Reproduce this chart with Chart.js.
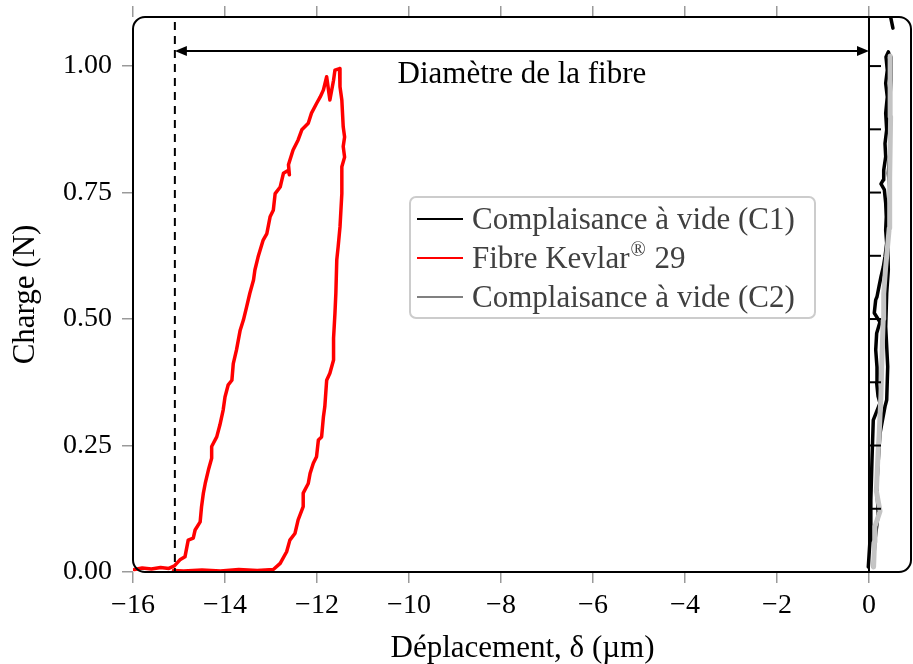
<!DOCTYPE html>
<html>
<head>
<meta charset="utf-8">
<script src="https://cdn.jsdelivr.net/npm/chart.js@4.4.0/dist/chart.umd.min.js"></script>
<style>
  html, body { margin: 0; padding: 0; background: #fff; }
</style>
</head>
<body>
<canvas id="chart" width="913" height="664"></canvas>
<script>
// values
const xTicks = [-16, -14, -12, -10, -8, -6, -4, -2, 0];
const yTicks = [0, 0.25, 0.5, 0.75, 1.0];
const zeroLineTicks = [0.125, 0.25, 0.375, 0.5, 0.625, 0.75, 0.875, 1.0];

const seriesLabels = ['Complaisance à vide (C1)', 'Fibre Kevlar® 29', 'Complaisance à vide (C2)'];

const kevlarX = [-15.97, -15.80, -15.60, -15.40, -15.22, -15.10, -14.98, -14.87, -14.80, -14.69,
  -14.65, -14.54, -14.51, -14.47, -14.43, -14.36, -14.29, -14.29, -14.18, -14.11,
  -14.04, -14.00, -13.93, -13.85, -13.82, -13.75, -13.67, -13.60, -13.53, -13.46,
  -13.38, -13.35, -13.28, -13.17, -13.09, -13.02, -12.95, -12.91, -12.80, -12.73,
  -12.62, -12.60, -12.62, -12.59, -12.52, -12.41, -12.33, -12.19, -12.12, -12.01,
  -11.93, -11.86, -11.79, -11.72, -11.64, -11.61, -11.51, -11.50, -11.46, -11.43,
  -11.40, -11.43, -11.40, -11.46, -11.46, -11.50, -11.54, -11.57, -11.59, -11.61,
  -11.64, -11.64, -11.72, -11.79, -11.83, -11.86, -11.90, -11.97, -12.01, -12.08,
  -12.15, -12.19, -12.30, -12.30, -12.41, -12.48, -12.59, -12.66, -12.80, -12.95,
  -13.30, -13.70, -14.10, -14.50, -14.90, -15.12];
const kevlarY = [0.005, 0.008, 0.006, 0.009, 0.007, 0.012, 0.024, 0.030, 0.063, 0.067,
  0.083, 0.099, 0.129, 0.156, 0.175, 0.202, 0.225, 0.248, 0.267, 0.291,
  0.320, 0.346, 0.370, 0.379, 0.412, 0.439, 0.478, 0.498, 0.524, 0.551,
  0.577, 0.597, 0.623, 0.656, 0.669, 0.702, 0.715, 0.748, 0.761, 0.788,
  0.794, 0.785, 0.805, 0.814, 0.834, 0.854, 0.874, 0.887, 0.907, 0.926,
  0.939, 0.953, 0.979, 0.933, 0.972, 0.992, 0.995, 0.959, 0.933, 0.880,
  0.860, 0.841, 0.820, 0.801, 0.748, 0.682, 0.643, 0.617, 0.551, 0.511,
  0.462, 0.419, 0.393, 0.379, 0.327, 0.307, 0.267, 0.261, 0.228, 0.215,
  0.195, 0.175, 0.156, 0.129, 0.103, 0.076, 0.063, 0.040, 0.017, 0.005,
  0.003, 0.005, 0.002, 0.004, 0.002, 0.003];

// C1: loading strand, unloading strand, then a short piece entering from above
const c1X = [-0.015, 0.022, 0.037, 0.043, 0.065, 0.093, 0.239, 0.196, 0.167, 0.174,
  0.146, 0.167, 0.239, 0.115, 0.146, 0.174, 0.217, 0.261, 0.311, 0.348,
  0.385, 0.363, 0.376, 0.363, 0.333, 0.261, 0.311, 0.320, 0.363, 0.348,
  0.385, 0.363, 0.398, 0.363, 0.398, 0.370, 0.420,
  0.457, 0.478, 0.435, 0.463, 0.420, 0.457, 0.420, 0.407, 0.420, 0.385,
  0.363, 0.407, 0.385, 0.348, 0.239, 0.202, 0.167, 0.202, 0.130, 0.093,
  null, 0.430, 0.520];
const c1Y = [0.010, 0.063, 0.117, 0.142, 0.221, 0.300, 0.334, 0.348, 0.374, 0.405,
  0.439, 0.472, 0.494, 0.512, 0.538, 0.544, 0.564, 0.584, 0.603, 0.623,
  0.650, 0.676, 0.702, 0.729, 0.756, 0.767, 0.775, 0.794, 0.821, 0.847,
  0.874, 0.907, 0.939, 0.966, 0.992, 1.018, 1.028,
  1.018, 0.972, 0.907, 0.841, 0.788, 0.755, 0.702, 0.650, 0.597, 0.551,
  0.485, 0.406, 0.340, 0.327, 0.274, 0.221, 0.169, 0.116, 0.063, 0.010,
  null, 1.115, 1.075];

const c2X = [0.100, 0.120, 0.130, 0.240, 0.160, 0.200, 0.220, 0.260, 0.280, 0.310,
  0.320, 0.360, 0.440, 0.450, 0.470, 0.460];
const c2Y = [0.010, 0.060, 0.090, 0.120, 0.160, 0.240, 0.270, 0.350, 0.420, 0.500,
  0.550, 0.600, 0.680, 0.780, 0.900, 1.020];

const fibreStart = -15.09;
const arrowLevel = 1.03;

// styles
const serif = '"Liberation Serif", "Times New Roman", serif';
const tickFont = { family: serif, size: 28 };
const labelFont = { family: serif, size: 31, lineHeight: 1 };
const lineColors = ['#000000', '#ff0000', '#c4c4c4'];
const lineWidths = [3.5, 3.5, 5];
const legendColors = ['#000000', '#ff0000', '#808080'];

function toPoints(xs, ys) {
  return xs.map((x, i) => ({ x: x, y: ys[i] }));
}

function fmtX(v) {
  return v < 0 ? '\u2212' + Math.abs(v) : String(v);
}

const overlay = {
  id: 'overlay',
  afterDatasetsDraw(chart) {
    const ctx = chart.ctx;
    const area = chart.chartArea;
    const xs = chart.scales.x;
    const ys = chart.scales.y;
    ctx.save();

    // fibre start (dashed)
    const xf = xs.getPixelForValue(fibreStart);
    ctx.strokeStyle = '#000';
    ctx.lineWidth = 2;
    ctx.setLineDash([8, 6]);
    ctx.beginPath();
    ctx.moveTo(xf, area.top + 5);
    ctx.lineTo(xf, area.bottom);
    ctx.stroke();
    ctx.setLineDash([]);

    // zero line with small ticks
    const x0 = xs.getPixelForValue(0);
    ctx.beginPath();
    ctx.moveTo(x0, area.top);
    ctx.lineTo(x0, area.bottom);
    ctx.stroke();
    zeroLineTicks.forEach(v => {
      const yp = ys.getPixelForValue(v);
      ctx.beginPath();
      ctx.moveTo(x0, yp);
      ctx.lineTo(x0 + 12, yp);
      ctx.stroke();
    });

    // double arrow
    const ya = ys.getPixelForValue(arrowLevel);
    ctx.beginPath();
    ctx.moveTo(xf + 4, ya);
    ctx.lineTo(x0 - 4, ya);
    ctx.stroke();
    ctx.fillStyle = '#000';
    [[xf, 1], [x0, -1]].forEach(([px, dir]) => {
      ctx.beginPath();
      ctx.moveTo(px, ya);
      ctx.lineTo(px + dir * 12, ya - 5);
      ctx.lineTo(px + dir * 12, ya + 5);
      ctx.closePath();
      ctx.fill();
    });
    ctx.font = '31px ' + serif;
    ctx.textAlign = 'center';
    ctx.textBaseline = 'middle';
    ctx.fillText('Diamètre de la fibre', (xf + x0) / 2, ya + 24);

    // rounded frame
    ctx.lineWidth = 2;
    ctx.beginPath();
    ctx.roundRect(area.left, area.top, area.right - area.left - 1, area.bottom - area.top, 12);
    ctx.stroke();

    // legend
    const lx = area.left + 277, ly = area.top + 180, lw = 405, lh = 121;
    ctx.fillStyle = '#fff';
    ctx.strokeStyle = '#cccccc';
    ctx.lineWidth = 2;
    ctx.beginPath();
    ctx.roundRect(lx, ly, lw, lh, 6);
    ctx.fill();
    ctx.stroke();
    ctx.textAlign = 'left';
    ctx.textBaseline = 'alphabetic';
    chart.data.datasets.forEach((ds, i) => {
      const cy = ly + 22 + i * 39;
      ctx.strokeStyle = legendColors[i];
      ctx.lineWidth = 2;
      ctx.beginPath();
      ctx.moveTo(lx + 7, cy);
      ctx.lineTo(lx + 53, cy);
      ctx.stroke();
      ctx.fillStyle = '#404040';
      ctx.font = '31px ' + serif;
      let tx = lx + 62;
      const by = cy + 10;
      const parts = ds.label.split('®');
      ctx.fillText(parts[0], tx, by);
      if (parts.length > 1) {
        tx += ctx.measureText(parts[0]).width;
        ctx.font = '20px ' + serif;
        ctx.fillText('®', tx + 1, by - 12);
        tx += ctx.measureText('®').width + 2;
        ctx.font = '31px ' + serif;
        ctx.fillText(parts[1], tx, by);
      }
    });
    ctx.restore();
  }
};

const axisGrid = { drawOnChartArea: false, color: '#9a9a9a', tickLength: 11, lineWidth: 1.5 };

new Chart(document.getElementById('chart'), {
  type: 'scatter',
  data: {
    datasets: [
      { label: seriesLabels[0], data: toPoints(c1X, c1Y), borderColor: lineColors[0], borderWidth: lineWidths[0], order: 2 },
      { label: seriesLabels[1], data: toPoints(kevlarX, kevlarY), borderColor: lineColors[1], borderWidth: lineWidths[1], order: 3 },
      { label: seriesLabels[2], data: toPoints(c2X, c2Y), borderColor: lineColors[2], borderWidth: lineWidths[2], order: 1 }
    ].map(d => Object.assign(d, {
      showLine: true, spanGaps: false, pointRadius: 0, fill: false, tension: 0,
      borderJoinStyle: 'round', borderCapStyle: 'round'
    }))
  },
  options: {
    responsive: false,
    animation: false,
    layout: { padding: { top: 0, right: 1, left: 0, bottom: 0 } },
    plugins: { legend: { display: false }, tooltip: { enabled: false } },
    scales: {
      x: {
        type: 'linear', position: 'bottom', min: -16, max: 0.935,
        afterBuildTicks: s => { s.ticks = xTicks.map(v => ({ value: v })); },
        afterFit: s => { s.height = 92; },
        grid: axisGrid,
        border: { display: false },
        ticks: { font: tickFont, color: '#000', padding: 6, maxRotation: 0, callback: v => fmtX(v) },
        title: { display: true, text: 'Déplacement, δ (µm)', font: labelFont, color: '#000', padding: { top: 0, bottom: 0 } }
      },
      xTop: {
        type: 'linear', position: 'top', min: -16, max: 0.935,
        afterBuildTicks: s => { s.ticks = xTicks.map(v => ({ value: v })); },
        afterFit: s => { s.height = 17; },
        grid: axisGrid,
        border: { display: false },
        ticks: { display: false }
      },
      y: {
        type: 'linear', position: 'left', min: 0, max: 1.097,
        afterBuildTicks: s => { s.ticks = yTicks.map(v => ({ value: v })); },
        afterFit: s => { s.width = 133; s.paddingTop = 0; s.paddingBottom = 0; },
        grid: axisGrid,
        border: { display: false },
        ticks: { font: tickFont, color: '#000', padding: 10, callback: v => v.toFixed(2) },
        title: { display: true, text: 'Charge (N)', font: labelFont, color: '#000', padding: { top: 10, bottom: 0 } }
      }
    }
  },
  plugins: [overlay]
});
</script>
</body>
</html>
